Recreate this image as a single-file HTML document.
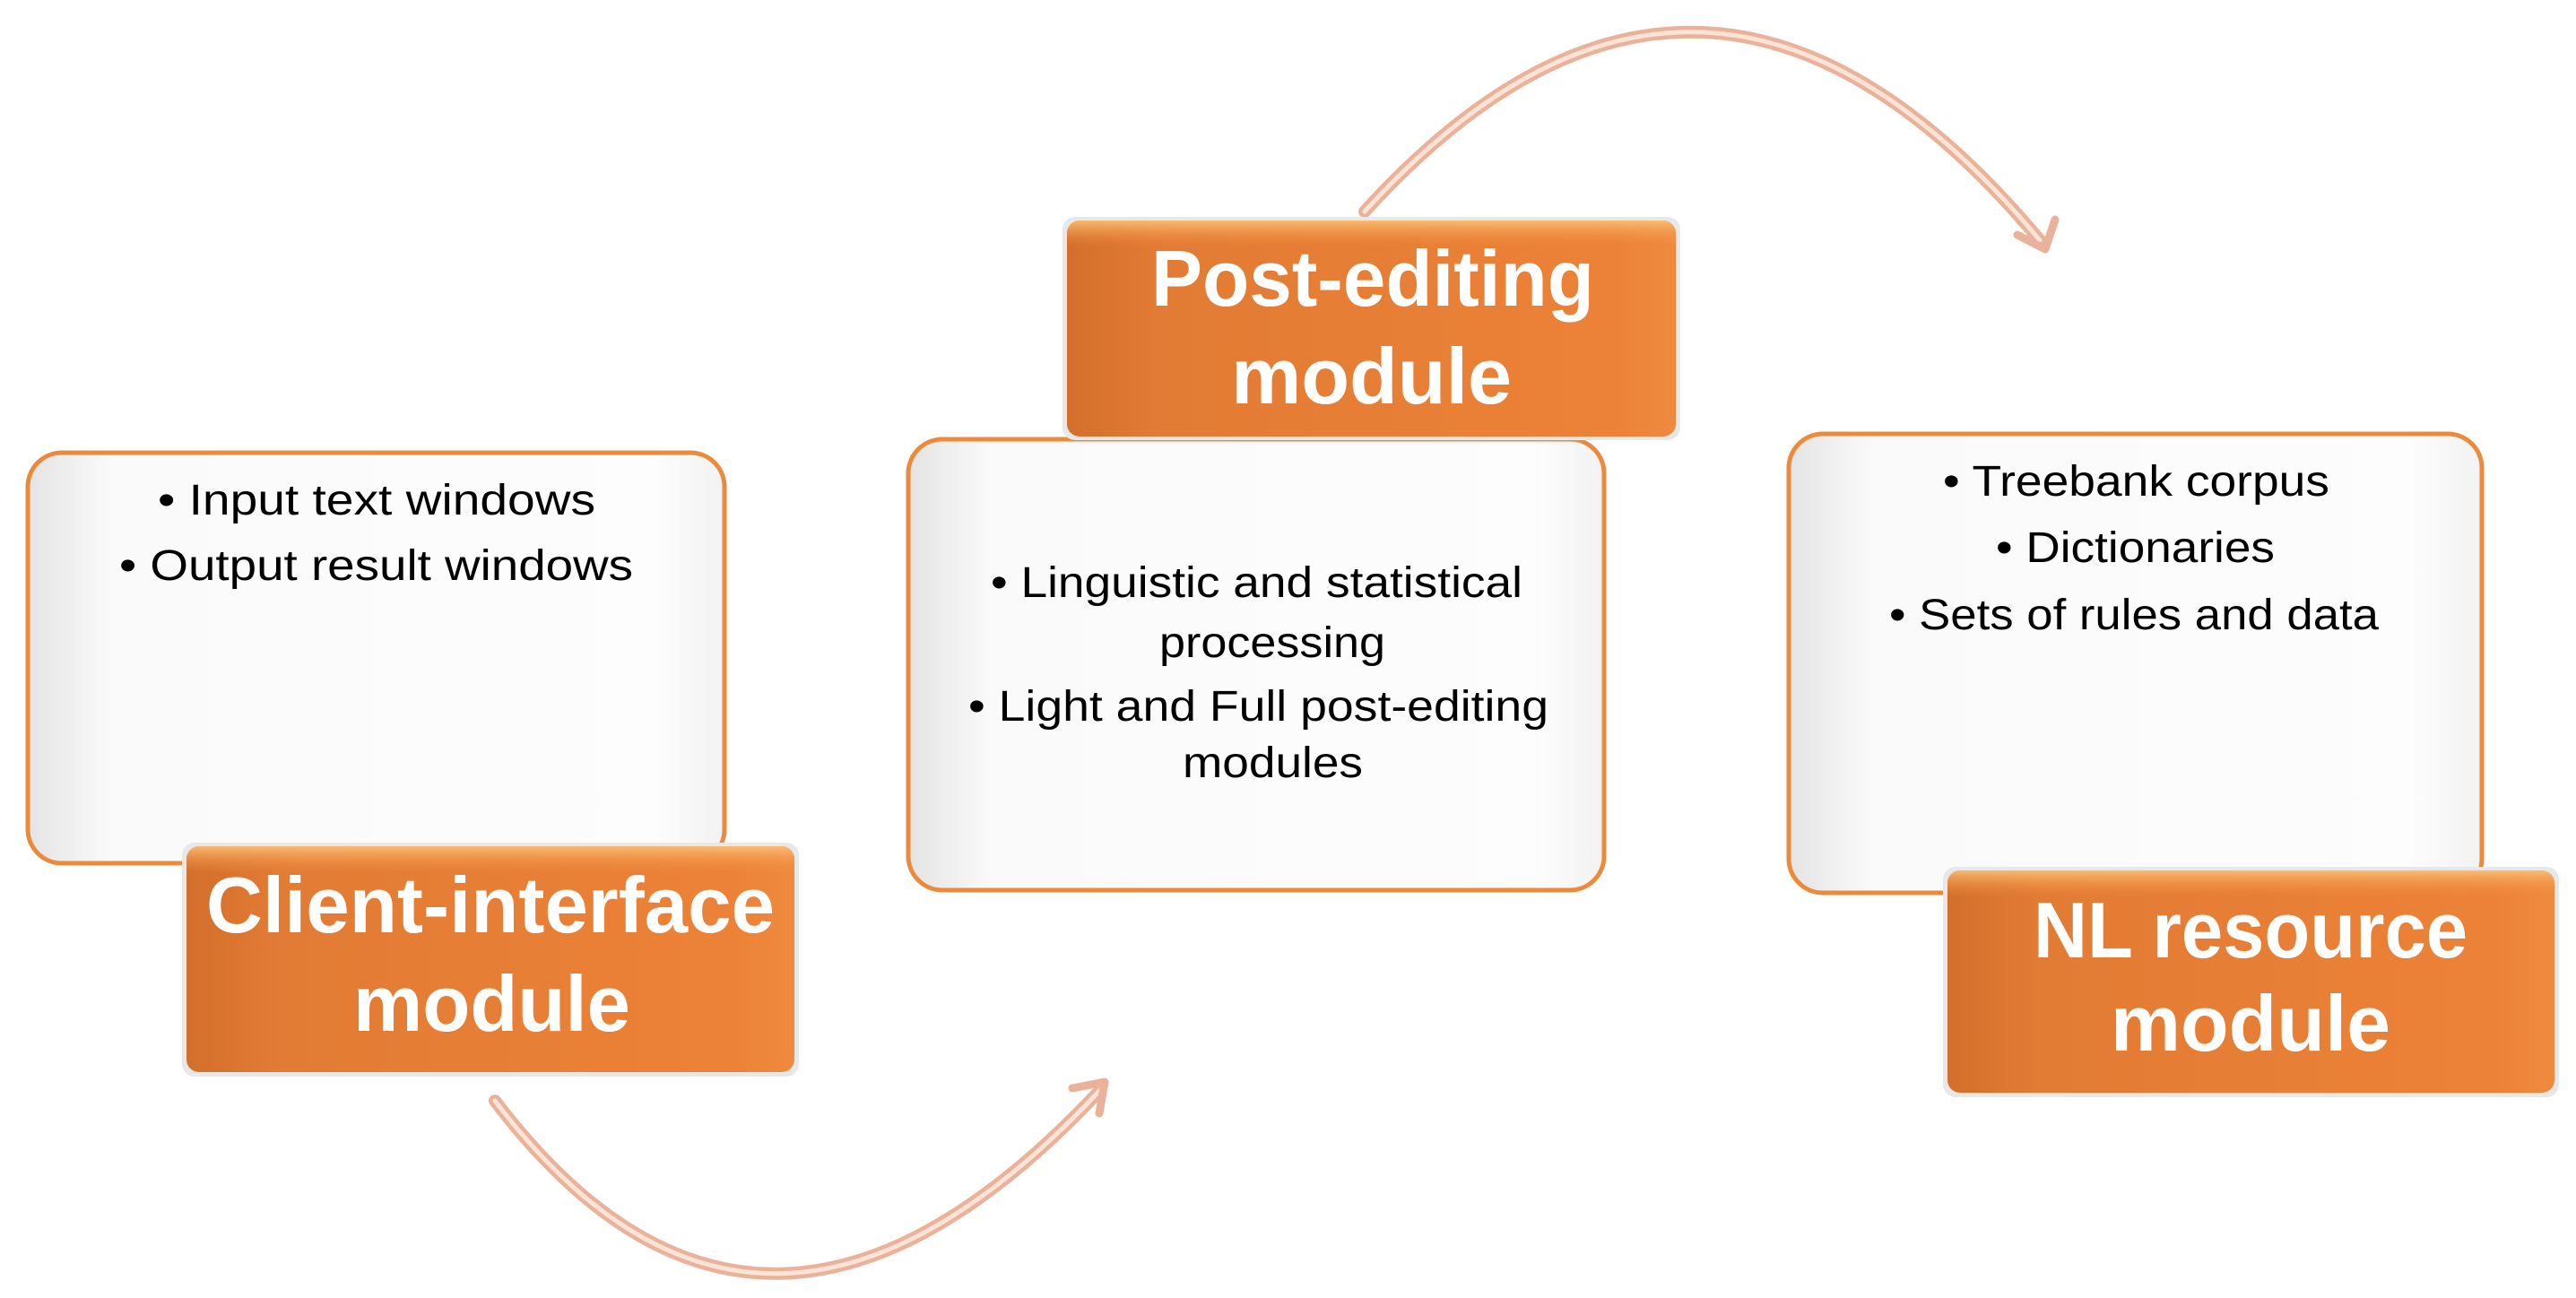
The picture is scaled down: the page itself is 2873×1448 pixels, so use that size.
<!DOCTYPE html>
<html><head><meta charset="utf-8"><style>
html,body{margin:0;padding:0;background:#fff;}
svg{display:block;}
text{font-family:"Liberation Sans",sans-serif;}
</style></head><body>
<svg width="2873" height="1448" viewBox="0 0 2873 1448" xmlns="http://www.w3.org/2000/svg">
<defs>
<linearGradient id="wg" x1="0" y1="0" x2="1" y2="0">
<stop offset="0" stop-color="#e4e4e4"/><stop offset="0.12" stop-color="#fafafa"/><stop offset="0.9" stop-color="#fdfdfd"/><stop offset="1" stop-color="#f2f2f2"/>
</linearGradient>
<linearGradient id="og" x1="0" y1="0" x2="1" y2="0">
<stop offset="0" stop-color="#d36f2c"/><stop offset="0.15" stop-color="#e27b34"/><stop offset="0.9" stop-color="#ec8237"/><stop offset="1" stop-color="#ee8a3e"/>
</linearGradient>
<linearGradient id="ot" x1="0" y1="0" x2="0" y2="1">
<stop offset="0" stop-color="#fcc278" stop-opacity="0.9"/><stop offset="0.12" stop-color="#f08a3c" stop-opacity="0"/>
</linearGradient>
</defs>

<!-- arcs -->
<g fill="none" stroke-linecap="round">
<path d="M1522 236 Q1900 -180 2275 268" stroke="#eab29a" stroke-width="14"/>
<path d="M1522 236 Q1900 -180 2275 268" stroke="#fbe3d6" stroke-width="5"/>
<path d="M2250 262 L2281 278 L2292 245" stroke="#eab29a" stroke-width="9" stroke-linejoin="round"/>
<path d="M552 1228 Q850 1620 1228 1215" stroke="#eab29a" stroke-width="14"/>
<path d="M552 1228 Q850 1620 1228 1215" stroke="#fbe3d6" stroke-width="5"/>
<path d="M1196 1214 L1232 1207 L1226 1242" stroke="#eab29a" stroke-width="9" stroke-linejoin="round"/>
</g>

<!-- Client -->
<rect x="31" y="505" width="777" height="458" rx="38" fill="url(#wg)" stroke="#ec8a3c" stroke-width="5"/>
<rect x="203" y="940" width="688" height="261" rx="14" fill="#e8e8e8"/>
<rect x="208" y="944" width="678" height="252" rx="14" fill="url(#og)"/>
<rect x="208" y="944" width="678" height="252" rx="14" fill="url(#ot)"/>
<g font-size="48" fill="#000">
<text x="176" y="574" textLength="488" lengthAdjust="spacingAndGlyphs">• Input text windows</text>
<text x="133" y="647" textLength="573" lengthAdjust="spacingAndGlyphs">• Output result windows</text>
</g>
<g font-size="88" font-weight="bold" fill="#fff">
<text x="230" y="1040" textLength="634" lengthAdjust="spacingAndGlyphs">Client-interface</text>
<text x="394" y="1150" textLength="309" lengthAdjust="spacingAndGlyphs">module</text>
</g>

<!-- Post-editing -->
<rect x="1013" y="490" width="776" height="503" rx="38" fill="url(#wg)" stroke="#ec8a3c" stroke-width="5"/>
<rect x="1185" y="242" width="689" height="249" rx="14" fill="#e8e8e8"/>
<rect x="1190" y="246" width="679" height="241" rx="14" fill="url(#og)"/>
<rect x="1190" y="246" width="679" height="241" rx="14" fill="url(#ot)"/>
<g font-size="48" fill="#000">
<text x="1105" y="666" textLength="593" lengthAdjust="spacingAndGlyphs">• Linguistic and statistical</text>
<text x="1293" y="733" textLength="252" lengthAdjust="spacingAndGlyphs">processing</text>
<text x="1080" y="804" textLength="647" lengthAdjust="spacingAndGlyphs">• Light and Full post-editing</text>
<text x="1319" y="867" textLength="201" lengthAdjust="spacingAndGlyphs">modules</text>
</g>
<g font-size="88" font-weight="bold" fill="#fff">
<text x="1284" y="341" textLength="494" lengthAdjust="spacingAndGlyphs">Post-editing</text>
<text x="1373" y="450" textLength="313" lengthAdjust="spacingAndGlyphs">module</text>
</g>

<!-- NL resource -->
<rect x="1995" y="484" width="773" height="512" rx="38" fill="url(#wg)" stroke="#ec8a3c" stroke-width="5"/>
<rect x="2167" y="967" width="687" height="257" rx="14" fill="#e8e8e8"/>
<rect x="2172" y="971" width="677" height="248" rx="14" fill="url(#og)"/>
<rect x="2172" y="971" width="677" height="248" rx="14" fill="url(#ot)"/>
<g font-size="48" fill="#000">
<text x="2167" y="553" textLength="431" lengthAdjust="spacingAndGlyphs">• Treebank corpus</text>
<text x="2226" y="627" textLength="311" lengthAdjust="spacingAndGlyphs">• Dictionaries</text>
<text x="2107" y="702" textLength="546" lengthAdjust="spacingAndGlyphs">• Sets of rules and data</text>
</g>
<g font-size="88" font-weight="bold" fill="#fff">
<text x="2268" y="1068" textLength="484" lengthAdjust="spacingAndGlyphs">NL resource</text>
<text x="2354" y="1172" textLength="312" lengthAdjust="spacingAndGlyphs">module</text>
</g>
</svg>
</body></html>
